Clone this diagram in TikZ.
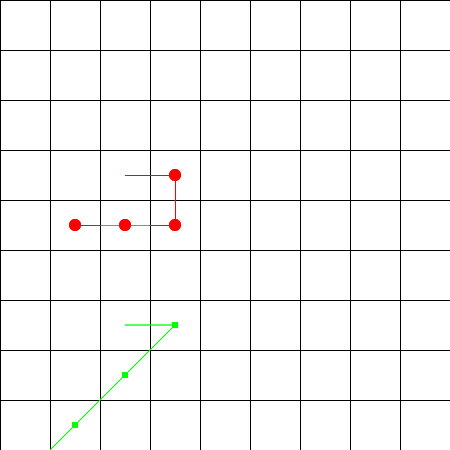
\documentclass[tikz,border=0pt]{standalone}
\begin{document}
\begin{tikzpicture}[x=1cm,y=1cm,
  gridline/.style={black,line width=0.5pt},
  redline/.style={red,line width=0.4pt},
  greenline/.style={green,line width=0.6pt},
  reddot/.style={circle,fill=red,inner sep=0pt,minimum size=0.24cm},
  greensq/.style={rectangle,fill=green,inner sep=0pt,minimum size=0.13cm}]
\useasboundingbox (0,0) rectangle (9,9);
\fill[white] (0,0) rectangle (9,9);
\foreach \i in {0,...,8} {
  \draw[gridline] (\i,0) -- (\i,9);
  \draw[gridline] (0,{9-\i}) -- (9,{9-\i});
}
% red path
\coordinate (r0) at (2.5,5.5);
\node[reddot] (r1) at (3.5,5.5) {};
\node[reddot] (r2) at (3.5,4.5) {};
\node[reddot] (r3) at (2.5,4.5) {};
\node[reddot] (r4) at (1.5,4.5) {};
\draw[redline] (r0) -- (r1.center) -- (r2.center) -- (r3.center) -- (r4.center);
\node[reddot] at (r1) {};
\node[reddot] at (r2) {};
\node[reddot] at (r3) {};
\node[reddot] at (r4) {};
% green path
\coordinate (g0) at (2.5,2.5);
\node[greensq] (g1) at (3.5,2.5) {};
\node[greensq] (g2) at (2.5,1.5) {};
\node[greensq] (g3) at (1.5,0.5) {};
\coordinate (g4) at (1,0);
\draw[greenline] (g0) -- (g1.center) -- (g4);
\node[greensq] at (g1) {};
\node[greensq] at (g2) {};
\node[greensq] at (g3) {};
\end{tikzpicture}
\end{document}
